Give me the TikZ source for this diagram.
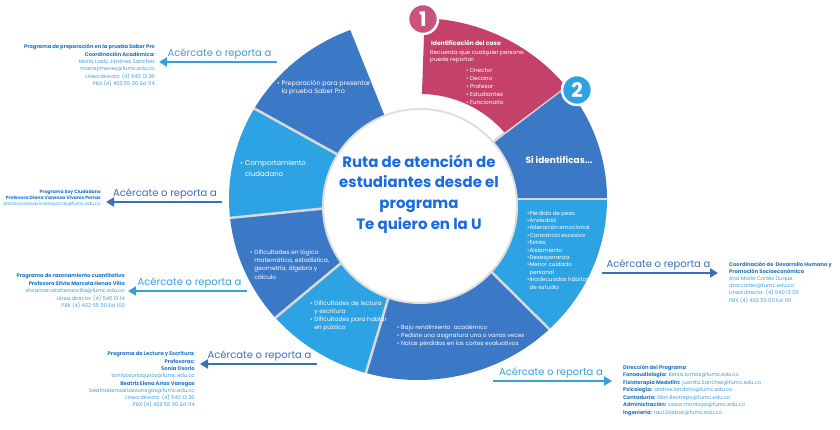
\documentclass[tikz,border=0pt]{standalone}
\usepackage{fontspec}
\setmainfont{Poppins}
\usetikzlibrary{arrows.meta}
\definecolor{dblue}{HTML}{3B78C6}
\definecolor{lblue}{HTML}{2EA3E3}
\definecolor{rose}{HTML}{C4416A}
\definecolor{rosebadge}{HTML}{C9537D}
\definecolor{titleblue}{HTML}{1A6AE0}
\definecolor{infobold}{HTML}{1F76C6}
\definecolor{infonorm}{HTML}{3A9CDB}
\definecolor{arrowl}{HTML}{36A0DC}
\definecolor{arrowd}{HTML}{3A6FB9}
\newcommand\ib[1]{\textcolor{infobold}{\textbf{#1}}}
\newcommand\inn[1]{\textcolor{infonorm}{#1}}
\tikzset{
  sepline/.style={draw=gray!30, line width=2.5pt},
  infobox/.style={inner sep=0pt, font=\fontsize{5.2}{7.4}\selectfont},
  inforight/.style={infobox, anchor=north east, align=right},
  infoleft/.style={infobox, anchor=north west, align=left},
  reach/.style={inner sep=0pt, font=\fontsize{10}{12}\selectfont},
  linkl/.style={line width=2.5pt, draw=arrowl, -{Triangle[length=8pt,width=9pt]}},
  linkd/.style={line width=2.5pt, draw=arrowd, -{Triangle[length=8pt,width=9pt]}},
  segtext/.style={text=white, inner sep=0pt, anchor=north west, align=left},
  badge/.style={circle, draw=white, line width=2.5pt, minimum size=30pt, inner sep=0pt, text=white, font=\bfseries\fontsize{20}{20}\selectfont}
}
\begin{document}
\begin{tikzpicture}[x=1pt,y=1pt]
\useasboundingbox (0,0) rectangle (840,430);
\clip (0,0) rectangle (840,430);
\coordinate (C) at (418,231);
% ring segments
\fill[dblue] (C) -- ++(111:189pt and 181pt) arc[start angle=111,end angle=150,x radius=189pt,y radius=181pt] -- cycle;
\fill[lblue] (C) -- ++(150:189pt and 181pt) arc[start angle=150,end angle=186,x radius=189pt,y radius=181pt] -- cycle;
\fill[dblue] (C) -- ++(186:189pt and 181pt) arc[start angle=186,end angle=221,x radius=189pt,y radius=181pt] -- cycle;
\fill[lblue] (C) -- ++(221:189pt and 181pt) arc[start angle=221,end angle=254,x radius=189pt,y radius=181pt] -- cycle;
\fill[dblue] (C) -- ++(254:189pt and 181pt) arc[start angle=254,end angle=314,x radius=189pt,y radius=181pt] -- cycle;
\fill[lblue] (C) -- ++(314:189pt and 181pt) arc[start angle=314,end angle=360,x radius=189pt,y radius=181pt] -- cycle;
\fill[dblue] (C) -- ++(0:189pt and 181pt) arc[start angle=0,end angle=38.5,x radius=189pt,y radius=181pt] -- cycle;
% separators
\foreach \a in {150,186,221,254,314,0,38.5}{\draw[sepline] (C) -- ++(\a:189pt and 181pt);}
% pink segment
\fill[rose] (C) ++(88:189pt and 181pt) arc[start angle=88,end angle=38.5,x radius=189pt,y radius=181pt] -- (504.5,297.5) arc[start angle=41,end angle=89,radius=112pt] -- cycle;
% inner white disc
\fill[white, draw=gray!25, line width=2pt] (420,224) circle[radius=97pt];
% badges
\node[badge, fill=rosebadge] (b1) at (423,411) {1};
\node[badge, fill=lblue] (b2) at (577,340) {2};
% centre title
\node[text=titleblue, align=center, inner sep=0pt, font=\bfseries\fontsize{15}{20.7}\selectfont] (title) at (419,236) {Ruta de atención de\\estudiantes desde el\\programa\\Te quiero en la U};
% segment texts
\node[segtext, font=\bfseries\fontsize{6}{7}\selectfont] (t1head) at (431,389.7) {Identificación del caso};
\node[segtext, font=\fontsize{5.7}{7}\selectfont] (t1a) at (430,379.6) {Recuerda que cualquier persona\\puede reportar:};
\node[segtext, font=\fontsize{5.7}{8}\selectfont] (t1b) at (466,361.6) {• Director\\• Decano\\• Profesor\\• Estudiantes\\• Funcionario};
\node[text=white, inner sep=0pt, font=\bfseries\fontsize{9}{10}\selectfont] (t2head) at (559,270) {Si identificas...};
\node[segtext, font=\fontsize{5.6}{7.4}\selectfont] (t2list) at (527,219.5) {•Pérdida de peso\\•Ansiedad\\•Alteración emocional\\•Cansancio excesivo\\•Estrés\\•Aislamiento\\•Desesperanza\\•Menor cuidado\\\phantom{•}personal\\•Inadecuados hábitos\\\phantom{•}de estudio};
\node[segtext, font=\fontsize{6.4}{8.5}\selectfont] (tsaber) at (277,349.9) {• Preparación para presentar\\\phantom{• }la prueba Saber Pro};
\node[segtext, font=\fontsize{7}{10.7}\selectfont] (tcomp) at (240,270) {• Comportamiento\\\phantom{• }ciudadano};
\node[segtext, font=\fontsize{6}{8.3}\selectfont] (tlog) at (250,180.7) {• Dificultades en lógico\\\phantom{• }matemática, estadística,\\\phantom{• }geometría, álgebra y\\\phantom{• }cálculo};
\node[segtext, font=\fontsize{6}{8}\selectfont] (tlect) at (310,129.7) {• Dificultades de lectura\\\phantom{• }y escritura\\• Dificultades para hablar\\\phantom{• }en público};
\node[segtext, font=\fontsize{5.8}{8}\selectfont] (tbajo) at (397,105.6) {• Bajo rendimiento\ \ académico\\• Pediste una asignatura una o varias veces\\• Notas pérdidas en los cortes evaluativos};
% info blocks
\node[inforight] (i1) at (155,385.8) {\ib{Programa de preparación en la prueba Saber Pro}\\\ib{Coordinación Académica:}\\\inn{María Laidy Jiménez Sánchez}\\\inn{maria.jimenez@fumc.edu.co}\\\inn{Línea directa: (4) 540 13 26}\\\inn{PBX (4) 402 55 00 Ext 114}};
\node[inforight, font=\fontsize{4.6}{6}\selectfont] (i2) at (101,240.4) {\ib{Programa Soy Ciudadano}\\\ib{Profesora Diana Vanessa Vivares Porras}\\\inn{dianavanessavivaresporras@fumc.edu.co}};
\node[inforight, font=\fontsize{5.2}{7.5}\selectfont] (i3) at (125,156.5) {\ib{Programa de razonamiento cuantitativo}\\\ib{Profesora Silvia Marcela Henao Villa}\\\inn{silviamarcelahenaovilla@fumc.edu.co}\\\inn{Línea directa: (4) 540 13 14}\\\inn{PBX (4) 402 55 00 Ext 102}};
\node[inforight, font=\fontsize{5.2}{7.3}\selectfont] (i4) at (195,78.5) {\ib{Programa de Lectura y Escritura:}\\\ib{Profesoras:}\\\ib{Sonia Osorio}\\\inn{soniaosorioquiroz@fumc.edu.co}\\\ib{Beatriz Elena Arias Vanegas}\\\inn{beatrizelenaariasvanegas@fumc.edu.co}\\\inn{Línea directa: (4) 540 13 26}\\\inn{PBX (4) 402 55 00 Ext 114}};
\node[infoleft, font=\fontsize{5.2}{7.2}\selectfont] (i5) at (729,168.5) {\ib{Coordinación de\ \ Desarrollo Humano y}\\\ib{Promoción Socioeconómica}\\\inn{Ana María Cortés Duque}\\\inn{ana.cortes@fumc.edu.co}\\\inn{Línea directa: (4) 540 13 06}\\\inn{PBX (4) 402 55 00 Ext 161}};
\node[infoleft, font=\fontsize{5.2}{7.5}\selectfont] (i6) at (623,65.5) {\ib{Dirección del Programa}\\\ib{Fonoaudiología:} \inn{Betsis.tomas@fumc.edu.co}\\\ib{Fisioterapia Medellín:} \inn{juanita.Sanchez@fumc.edu.co}\\\ib{Psicología:} \inn{andres.londono@fumc.edu.co}\\\ib{Contaduría:} \inn{Elkin.Restrepo@fumc.edu.co}\\\ib{Administración:} \inn{cesar.montoya@fumc.edu.co}\\\ib{Ingeniería:} \inn{raul.Salazar@fumc.edu.co}};
% reach labels
\node[reach, text=arrowl] (r1) at (219.5,376) {Acércate o reporta a};
\node[reach, text=arrowd] (r2) at (165,236) {Acércate o reporta a};
\node[reach, text=arrowl] (r3) at (189.5,147) {Acércate o reporta a};
\node[reach, text=arrowd] (r4) at (259.5,74) {Acércate o reporta a};
\node[reach, text=arrowd] (r5) at (658.5,165) {Acércate o reporta a};
\node[reach, text=arrowl] (r6) at (551,57) {Acércate o reporta a};
% arrows
\coordinate (a1s) at (277,368); \coordinate (a1e) at (159,368);
\coordinate (a2s) at (222,228); \coordinate (a2e) at (106,228);
\coordinate (a3s) at (247,139); \coordinate (a3e) at (128,139);
\coordinate (a4s) at (317,66);  \coordinate (a4e) at (200,66);
\coordinate (a5s) at (602,157); \coordinate (a5e) at (718,157);
\coordinate (a6s) at (493,49);  \coordinate (a6e) at (612,49);
\draw[linkl] (a1s) -- (a1e);
\draw[linkd] (a2s) -- (a2e);
\draw[linkl] (a3s) -- (a3e);
\draw[linkd] (a4s) -- (a4e);
\draw[linkd] (a5s) -- (a5e);
\draw[linkl] (a6s) -- (a6e);
\end{tikzpicture}
\end{document}
